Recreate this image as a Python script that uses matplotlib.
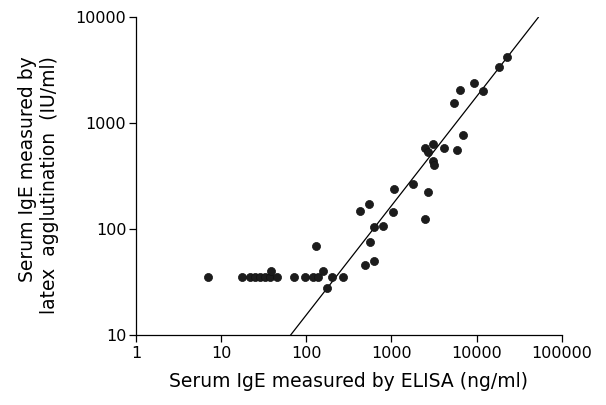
import matplotlib
matplotlib.use("Agg")
import matplotlib.pyplot as plt
import numpy as np

# ELISA (ng/ml) vs latex agglutination (IU/ml)
elisa = [7, 17.7, 21.8, 25, 28.6, 32.7, 37.5, 44.9, 38, 71.7, 96.6, 121, 138,
         158, 199, 268, 174, 129,
         490, 624, 556, 624, 803, 428, 545, 1081, 1052, 1806, 2711, 2478,
         2478, 2710, 3105, 3105, 3190, 4143, 5844, 6987, 5432, 6383, 9326,
         12000, 18500, 22960]
latex = [35, 35, 35, 35, 35, 35, 35, 35, 40, 35, 35, 35, 35,
         40, 35, 35, 27.7, 68.6,
         46, 50, 76, 104, 107, 149, 171, 238, 144, 267, 223, 124,
         585, 540, 638, 438, 406, 589, 556, 776, 1545, 2060, 2414,
         2030, 3420, 4200]

# regression line end points
fit_x = [65.6, 53000]
fit_y = [10, 10000]

xticks = [1, 10, 100, 1000, 10000, 100000]
yticks = [10, 100, 1000, 10000]

plt.rcParams.update({"font.family": "DejaVu Sans"})

fig = plt.figure(figsize=(6.06, 4.05), dpi=100)
ax = fig.add_axes([0.2244, 0.173, 0.7026, 0.784])
ax.set_xscale("log")
ax.set_yscale("log")
ax.set_xlim(1, 100000)
ax.set_ylim(10, 10000)

ax.plot(fit_x, fit_y, color="black", lw=0.9, zorder=2)
ax.plot(elisa, latex, "o", color="#1c1c1c", ms=5.8, mec="#111111", mew=0.5,
        zorder=3, clip_on=False)

for s in ["top", "right"]:
    ax.spines[s].set_visible(False)
for s in ["left", "bottom"]:
    ax.spines[s].set_linewidth(0.9)

ax.xaxis.set_major_locator(matplotlib.ticker.FixedLocator(xticks))
ax.yaxis.set_major_locator(matplotlib.ticker.FixedLocator(yticks))
ax.xaxis.set_minor_locator(matplotlib.ticker.NullLocator())
ax.yaxis.set_minor_locator(matplotlib.ticker.NullLocator())
ax.set_xticklabels([str(t) for t in xticks])
ax.set_yticklabels([str(t) for t in yticks])
ax.tick_params(axis="both", direction="out", length=5, width=0.9,
               labelsize=11.5, colors="black", pad=2)
ax.tick_params(axis="x", pad=3)

ax.set_xlabel("Serum IgE measured by ELISA (ng/ml)", fontsize=13.5, labelpad=8)
fig.text(0.064, 0.543, "Serum IgE measured by\nlatex  agglutination  (IU/ml)",
         rotation=90, fontsize=13.5, ha="center", va="center",
         multialignment="right", linespacing=1.2)

fig.savefig("out.png", dpi=100, facecolor="white")
